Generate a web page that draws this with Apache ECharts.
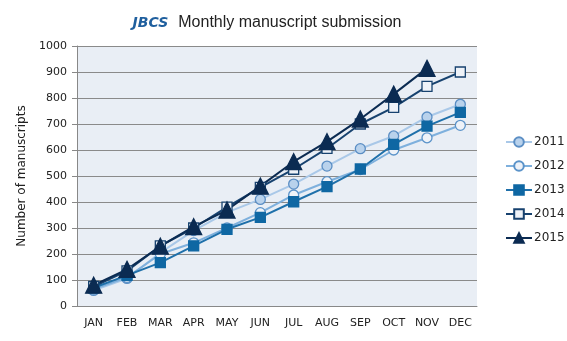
<!DOCTYPE html>
<html>
<head>
<meta charset="utf-8">
<script src="https://cdn.jsdelivr.net/npm/echarts@6/dist/echarts.min.js"></script>
<style>
    html, body { margin: 0; padding: 0; background: #ffffff; }
    #chart { width: 567px; height: 341px; }
</style>
</head>
<body>
<div id="chart"></div>
<script>
// data
const months = ['JAN', 'FEB', 'MAR', 'APR', 'MAY', 'JUN', 'JUL', 'AUG', 'SEP', 'OCT', 'NOV', 'DEC'];
const y2011 = [60, 106, 205, 290, 360, 410, 469, 538, 605, 654, 727, 776];
const y2012 = [65, 110, 200, 243, 300, 359, 427, 478, 525, 600, 647, 695];
const y2013 = [70, 118, 167, 231, 295, 341, 401, 459, 527, 622, 692, 745];
const y2014 = [75, 135, 231, 300, 380, 456, 526, 606, 700, 764, 845, 900];
const y2015 = [80, 141, 230, 305, 369, 461, 555, 632, 719, 815, 914];

const chart = echarts.init(document.getElementById('chart'));

const font = 'DejaVu Sans';

// one line series
function line(name, data, color, symbol, size, fill, border) {
    return {
        name: name,
        type: 'line',
        data: data,
        symbol: symbol,
        symbolSize: size,
        showAllSymbol: true,
        lineStyle: { color: color, width: 2 },
        itemStyle: { color: fill, borderColor: border, borderWidth: 1.3 },
        emphasis: { disabled: true }
    };
}

const option = {
    animation: false,
    backgroundColor: '#ffffff',
    title: {
        text: '{b|JBCS}  {n|Monthly manuscript submission}',
        left: 262,
        textAlign: 'center',
        top: 9,
        textStyle: {
            rich: {
                b: { fontFamily: 'DejaVu Sans', fontWeight: 'bold', fontStyle: 'italic', fontSize: 14, color: '#1f5f9e' },
                n: { fontFamily: 'Liberation Sans', fontWeight: 'normal', fontSize: 16, color: '#222222' }
            }
        }
    },
    grid: {
        left: 77,
        right: 90,
        top: 46,
        bottom: 35,
        show: true,
        backgroundColor: '#e9eef5',
        borderWidth: 0
    },
    legend: {
        orient: 'vertical',
        left: 500,
        top: 131,
        itemWidth: 26,
        itemHeight: 12,
        itemGap: 12,
        textStyle: { fontFamily: font, fontSize: 12, color: '#222222', padding: [0, 0, 0, -3] },
        data: ['2011', '2012', '2013', '2014', '2015']
    },
    xAxis: {
        type: 'category',
        data: months,
        boundaryGap: true,
        axisLine: { lineStyle: { color: '#888888' } },
        axisTick: { length: 5, lineStyle: { color: '#888888' } },
        axisLabel: { fontFamily: font, fontSize: 11, color: '#222222', margin: 12, interval: 0 }
    },
    yAxis: {
        type: 'value',
        min: 0,
        max: 1000,
        interval: 100,
        name: 'Number of manuscripts',
        nameLocation: 'middle',
        nameGap: 45,
        nameTextStyle: { fontFamily: font, fontSize: 12, color: '#222222' },
        axisLine: { show: true, lineStyle: { color: '#888888' } },
        axisTick: { show: true, length: 5, lineStyle: { color: '#888888' } },
        axisLabel: { fontFamily: font, fontSize: 11, color: '#222222', margin: 10, formatter: v => String(v) },
        splitLine: { lineStyle: { color: '#8a8a8a', width: 1 } }
    },
    series: [
        line('2011', y2011, '#a9c8e8', 'circle', 10, '#b9d2ec', '#5b8ec4'),
        line('2012', y2012, '#7eb0dd', 'circle', 10, '#eef2f8', '#5b93c9'),
        line('2013', y2013, '#1f70aa', 'rect', 10, '#0f67a3', '#0f67a3'),
        line('2014', y2014, '#17426f', 'rect', 10, '#eef2f8', '#17426f'),
        line('2015', y2015, '#0b2b52', 'triangle', 16, '#0b2b52', '#0b2b52')
    ]
};

chart.setOption(option);
</script>
</body>
</html>
